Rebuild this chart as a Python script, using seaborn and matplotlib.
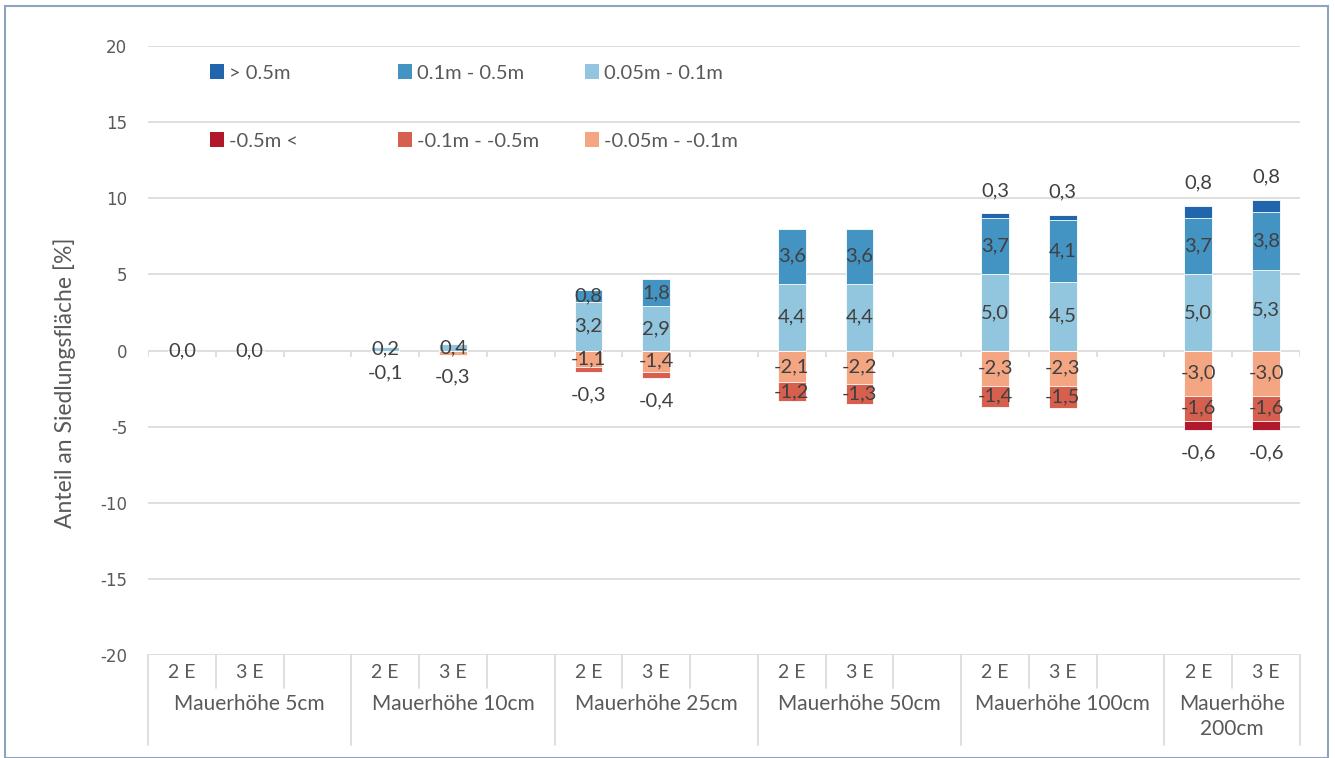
import numpy as np
import pandas as pd
import matplotlib
matplotlib.use("Agg")
import matplotlib.pyplot as plt
import seaborn as sns
from matplotlib.patches import Rectangle
from matplotlib.transforms import blended_transform_factory

# ---------------- data ----------------
groups = ["Mauerhöhe 5cm", "Mauerhöhe 10cm", "Mauerhöhe 25cm",
          "Mauerhöhe 50cm", "Mauerhöhe 100cm", "Mauerhöhe\n200cm"]
scenarios = ["2 E", "3 E"]

# one value per bar: (group, scenario) in order 2 E, 3 E
pos_low = [0.0, 0.0, 0.2, 0.4, 3.2, 2.9, 4.4, 4.4, 5.0, 4.5, 5.0, 5.3]      # 0.05m - 0.1m
pos_mid = [0.0, 0.0, 0.0, 0.0, 0.8, 1.8, 3.6, 3.6, 3.7, 4.1, 3.7, 3.8]      # 0.1m - 0.5m
pos_high = [0.0, 0.0, 0.0, 0.0, 0.0, 0.0, 0.0, 0.0, 0.3, 0.3, 0.8, 0.8]     # > 0.5m
neg_low = [0.0, 0.0, -0.1, -0.3, -1.1, -1.4, -2.1, -2.2, -2.3, -2.3, -3.0, -3.0]  # -0.05m - -0.1m
neg_mid = [0.0, 0.0, 0.0, 0.0, -0.3, -0.4, -1.2, -1.3, -1.4, -1.5, -1.6, -1.6]    # -0.1m - -0.5m
neg_high = [0.0, 0.0, 0.0, 0.0, 0.0, 0.0, 0.0, 0.0, 0.0, 0.0, -0.6, -0.6]         # -0.5m <

pos_names = ["> 0.5m", "0.1m - 0.5m", "0.05m - 0.1m"]
neg_names = ["-0.5m <", "-0.1m - -0.5m", "-0.05m - -0.1m"]
y_ticks = [-20, -15, -10, -5, 0, 5, 10, 15, 20]

# ---------------- styling ----------------
c_pos = {"high": "#2166ac", "mid": "#4393c3", "low": "#92c5de"}
c_neg = {"high": "#b2182b", "mid": "#d6604d", "low": "#f4a582"}
txt = "#404040"
axc = "#595959"
grid = "#d9d9d9"
narrow = ["Liberation Sans Narrow", "Lato", "DejaVu Sans"]
lab_font = ["Lato", "DejaVu Sans"]

sns.set_theme(style="white")
plt.rcParams["font.family"] = ["DejaVu Sans"]

# slots: each group has 2 E, 3 E and an empty slot (except the last)
slots = []
for gi, g in enumerate(groups):
    for s in scenarios:
        slots.append(f"{gi}|{s}")
    if gi < len(groups) - 1:
        slots.append(f"{gi}|gap")

rows = []
k = 0
for gi, g in enumerate(groups):
    for s in scenarios:
        rows.append(dict(slot=f"{gi}|{s}", xpos=slots.index(f"{gi}|{s}"),
                         pl=pos_low[k], pm=pos_mid[k], ph=pos_high[k],
                         nl=neg_low[k], nm=neg_mid[k], nh=neg_high[k]))
        k += 1
df = pd.DataFrame(rows)
df["cum_pl"] = df["pl"]
df["cum_pm"] = df["pl"] + df["pm"]
df["cum_ph"] = df["pl"] + df["pm"] + df["ph"]
df["cum_nl"] = df["nl"]
df["cum_nm"] = df["nl"] + df["nm"]
df["cum_nh"] = df["nl"] + df["nm"] + df["nh"]

W, H = 1335, 758
fig = plt.figure(figsize=(W / 100, H / 100), dpi=100)
ax = fig.add_axes([148 / W, 1 - 655 / H, (1300 - 148) / W, (655 - 46) / H])

bw = 0.41
for col, c in [("cum_ph", c_pos["high"]), ("cum_pm", c_pos["mid"]), ("cum_pl", c_pos["low"]),
               ("cum_nh", c_neg["high"]), ("cum_nm", c_neg["mid"]), ("cum_nl", c_neg["low"])]:
    sns.barplot(data=df, x="slot", y=col, order=slots, color=c, saturation=1,
                width=bw, errorbar=None, edgecolor="white", linewidth=0.6, ax=ax)

ax.set_ylim(-20, 20)
ax.set_xlim(-0.5, len(slots) - 0.5)
ax.set_yticks(y_ticks)
ax.set_yticklabels([str(t) for t in y_ticks], color=axc, fontsize=12)
ax.tick_params(axis="y", length=0, pad=15)
ax.set_xticks([])
ax.set_xlabel("")
ax.set_ylabel("Anteil an Siedlungsfläche [%]", color=axc, fontsize=16.5, family=narrow)
ax.yaxis.set_label_coords((76 - 148) / 1152, (655 - 383) / 609)
for sp in ax.spines.values():
    sp.set_visible(False)
for t in y_ticks:
    ax.axhline(t, color=grid, lw=1.2, zorder=0)
ax.set_axisbelow(True)

# small ticks on the zero line
bounds = np.arange(len(slots) + 1) - 0.5
ax.vlines(bounds, -0.4, 0, color=grid, lw=1.2, zorder=0)

# ---------------- data labels ----------------
def fmt(v):
    return f"{v:.1f}".replace(".", ",")

lab_kw = dict(ha="center", va="center", color=txt, fontsize=14.5, family=lab_font, zorder=5)
off = 1.5
for _, r in df.iterrows():
    x = r["xpos"]
    # positive
    ax.text(x, r["pl"] / 2, fmt(r["pl"]), **lab_kw)
    if r["pm"] != 0:
        ax.text(x, r["pl"] + r["pm"] / 2, fmt(r["pm"]), **lab_kw)
    if r["ph"] != 0:
        ax.text(x, r["cum_ph"] + off, fmt(r["ph"]), **lab_kw)
    # negative
    if r["nl"] != 0:
        if abs(r["nl"]) < 0.5:
            ax.text(x, r["cum_nh"] - off + 0.1, fmt(r["nl"]), **lab_kw)
        else:
            ax.text(x, r["nl"] / 2, fmt(r["nl"]), **lab_kw)
    if r["nm"] != 0:
        if abs(r["nm"]) < 0.5:
            ax.text(x, r["cum_nh"] - off, fmt(r["nm"]), **lab_kw)
        else:
            ax.text(x, r["nl"] + r["nm"] / 2, fmt(r["nm"]), **lab_kw)
    if r["nh"] != 0:
        ax.text(x, r["cum_nh"] - off, fmt(r["nh"]), **lab_kw)

# ---------------- multi-level category axis ----------------
tr = blended_transform_factory(ax.transData, ax.transAxes)
ah = 655 - 46
short_y = -(688 - 655) / ah
long_y = -(745 - 655) / ah
for i, s in enumerate(slots):
    gi = int(s.split("|")[0])
    first_in_group = (i == 0) or (int(slots[i - 1].split("|")[0]) != gi)
    ax.plot([i - 0.5, i - 0.5], [0, long_y if first_in_group else short_y],
            transform=tr, color=grid, lw=1.2, clip_on=False)
    sc = s.split("|")[1]
    if sc != "gap":
        ax.text(i, -(673 - 655) / ah, sc, transform=tr, ha="center", va="center",
                color=axc, fontsize=14, family=narrow)
ax.plot([len(slots) - 0.5] * 2, [0, long_y], transform=tr, color=grid, lw=1.2, clip_on=False)
for gi, g in enumerate(groups):
    idx = [i for i, s in enumerate(slots) if int(s.split("|")[0]) == gi]
    xc = (min(idx) - 0.5 + max(idx) + 0.5) / 2
    ax.text(xc, -(694 - 655) / ah, g, transform=tr, ha="center", va="top",
            color=axc, fontsize=15, family=narrow, linespacing=1.3)

# ---------------- legend ----------------
legend_pos = [(210, 73), (398, 73), (585, 73), (210, 141), (398, 141), (585, 141)]
leg_items = [(pos_names[0], c_pos["high"]), (pos_names[1], c_pos["mid"]), (pos_names[2], c_pos["low"]),
             (neg_names[0], c_neg["high"]), (neg_names[1], c_neg["mid"]), (neg_names[2], c_neg["low"])]
for (px, py), (name, c) in zip(legend_pos, leg_items):
    h = Rectangle((0, 0), 1, 1, facecolor=c, edgecolor="none")
    lg = fig.legend([h], [name], loc="center left", bbox_to_anchor=(px / W, 1 - py / H),
                    frameon=False, borderpad=0, borderaxespad=0, handlelength=0.7,
                    handleheight=0.7, handletextpad=0.25,
                    prop={"family": lab_font, "size": 14.5})
    for t in lg.get_texts():
        t.set_color(axc)

# outer border
fig.add_artist(Rectangle((5 / W, 0), (1328 - 5) / W, 1 - 6 / H, transform=fig.transFigure,
                         fill=False, edgecolor="#8fa3bd", lw=1.5))

fig.savefig("out.png", dpi=100)
